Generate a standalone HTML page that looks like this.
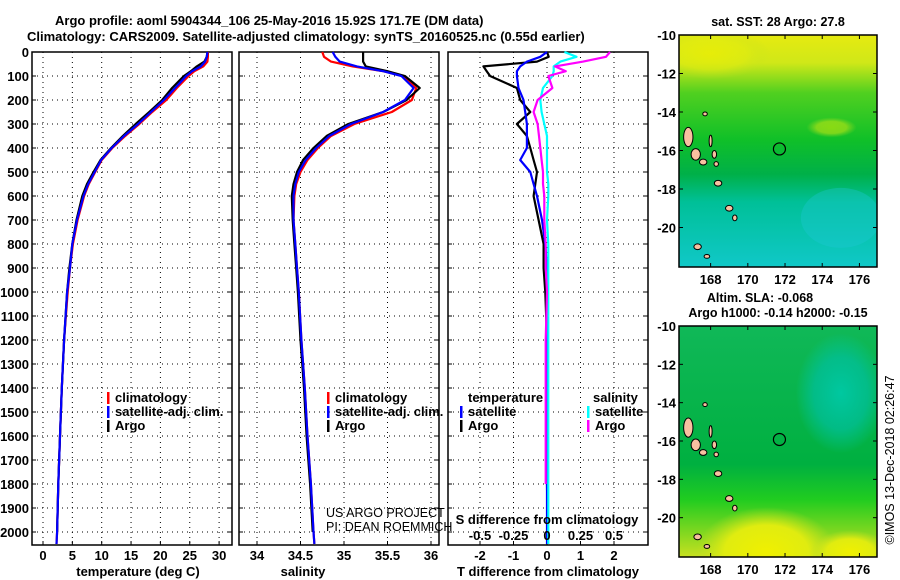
<!DOCTYPE html>
<html><head><meta charset="utf-8"><style>
body{margin:0;background:#fff;width:900px;height:580px;overflow:hidden}
svg{display:block;font-family:"Liberation Sans",sans-serif}
.b{font-weight:bold;font-size:13px}
.t{font-weight:bold;font-size:12.5px}
.n{font-weight:normal;font-size:12.5px}
</style></head><body>
<svg id="chart" width="900" height="580" viewBox="0 0 900 580">
<defs>
<linearGradient id="sstg" x1="0" y1="0" x2="0" y2="1">
<stop offset="0" stop-color="#e6ea10"/><stop offset="0.12" stop-color="#d0e818"/><stop offset="0.25" stop-color="#50d020"/><stop offset="0.45" stop-color="#10c028"/><stop offset="0.6" stop-color="#00b048"/><stop offset="0.72" stop-color="#00c098"/><stop offset="1" stop-color="#10c8c8"/></linearGradient>
<linearGradient id="slag" x1="0" y1="0" x2="0" y2="1">
<stop offset="0" stop-color="#10b858"/><stop offset="0.6" stop-color="#00b040"/><stop offset="0.75" stop-color="#20cc20"/><stop offset="1" stop-color="#c8e020"/></linearGradient>
<radialGradient id="teal"><stop offset="0" stop-color="#00c8a0"/><stop offset="0.6" stop-color="#00c0a0" stop-opacity="0.7"/><stop offset="1" stop-color="#00c8a0" stop-opacity="0"/></radialGradient>
<radialGradient id="yel"><stop offset="0" stop-color="#f0f000"/><stop offset="0.6" stop-color="#e0ec10"/><stop offset="1" stop-color="#c0e020" stop-opacity="0"/></radialGradient>
<clipPath id="c1"><rect x="679" y="35" width="198" height="232"/></clipPath>
<clipPath id="c2"><rect x="679" y="326" width="198" height="231"/></clipPath>
</defs>
<g id="root"></g>
</svg>
<script>
// ---- data ----
const depths = [0,20,40,60,80,100,150,200,250,300,350,400,450,500,550,600,700,800,900,1000,1200,1400,1600,1800,2000,2050];
const tempClim = [28.1,28.1,28.0,27.3,25.8,24.8,22.8,21.0,18.6,16.4,14.0,11.8,10.0,8.9,7.8,7.0,5.9,5.1,4.6,4.2,3.6,3.2,2.9,2.6,2.4,2.3];
const tempSat  = [28.0,27.9,27.6,26.9,25.4,24.4,22.5,20.6,18.4,16.2,13.8,11.7,9.9,8.8,7.7,6.9,5.8,5.0,4.6,4.1,3.6,3.2,2.9,2.6,2.4,2.3];
const tempArgo = [28.0,27.9,27.5,26.2,25.2,24.0,22.0,20.3,18.1,15.8,13.6,11.6,9.8,8.6,7.5,6.7,5.7,5.0,4.5,4.1,3.6,3.2,2.9,2.6,2.4,null];
const salClim = [34.75,34.77,34.85,35.1,35.45,35.68,35.83,35.78,35.55,35.12,34.85,34.7,34.58,34.5,34.45,34.43,34.42,34.44,34.46,34.48,34.51,34.55,34.58,34.62,34.65,34.66];
const salSat  = [34.87,34.9,34.95,35.15,35.45,35.66,35.8,35.7,35.45,35.08,34.83,34.68,34.56,34.48,34.44,34.42,34.42,34.44,34.46,34.48,34.51,34.55,34.58,34.62,34.65,34.66];
const salArgo = [35.22,35.22,35.22,35.25,35.5,35.7,35.87,35.72,35.45,35.05,34.8,34.65,34.53,34.46,34.42,34.4,34.41,34.43,34.45,34.47,34.5,34.54,34.57,34.61,34.64,null];
const dTsat  = [0.0,-0.2,-0.6,-0.8,-0.9,-0.9,-0.85,-0.7,-0.65,-0.6,-0.6,-0.6,-0.8,-0.5,-0.4,-0.3,-0.15,-0.05,0,0,0,0,0,0,0,0];
const dTargo = [0.0,0.05,-0.3,-1.9,-1.8,-1.7,-0.9,-0.8,-0.5,-0.9,-0.6,-0.5,-0.4,-0.3,-0.35,-0.4,-0.25,-0.1,-0.1,-0.05,0,0.02,0,0,0.02,null];
const dSsat  = [0.13,0.22,0.1,0.05,0.05,0.04,-0.03,-0.05,-0.04,-0.02,0,0,0,0,0.01,0.01,0,0.01,0.01,0.01,0.01,0.01,0.01,0.01,0.01,0.01];
const dSargo = [0.47,0.44,0.27,0.06,0.14,0.01,0.04,-0.07,-0.1,-0.07,-0.06,-0.05,-0.04,-0.03,-0.03,-0.02,-0.02,-0.01,-0.01,0,-0.01,-0.01,-0.01,-0.01,null,null];
const depthTicks = [0,100,200,300,400,500,600,700,800,900,1000,1100,1200,1300,1400,1500,1600,1700,1800,1900,2000];
const tempTicks = [0,5,10,15,20,25,30];
const salTicks = [34,34.5,35,35.5,36];
const dTTicks = [-2,-1,0,1,2];
const dSTicks = [-0.5,-0.25,0,0.25,0.5];
const latTicks = [-10,-12,-14,-16,-18,-20];
const lonTicks = [168,170,172,174,176];
const argoPos = [171.7,-15.92];
const islands = [[166.8,-15.3,0.25,0.5],[167.2,-16.2,0.25,0.3],[167.6,-16.6,0.2,0.15],[168.2,-16.2,0.12,0.2],[168.3,-16.7,0.12,0.12],[168.4,-17.7,0.2,0.15],[169.0,-19.0,0.2,0.15],[169.3,-19.5,0.12,0.15],[167.3,-21.0,0.2,0.15],[167.8,-21.5,0.15,0.1],[167.7,-14.1,0.12,0.1],[168.0,-15.5,0.08,0.3]];

const NS="http://www.w3.org/2000/svg";
const root=document.getElementById('root');
function el(tag,attrs,parent){const e=document.createElementNS(NS,tag);for(const k in attrs)e.setAttribute(k,attrs[k]);(parent||root).appendChild(e);return e;}
function txt(x,y,s,cls,anchor,parent){const t=el('text',{x:x,y:y,'class':cls||'b','text-anchor':anchor||'start'},parent);t.textContent=s;return t;}

const Y0=52,Y1=545;
const yD=d=>Y0+d*0.24;
const panels=[
 {x0:32,x1:232,sx:v=>43+v*5.87,ticks:tempTicks,name:'temperature-panel'},
 {x0:239,x1:439,sx:v=>257+(v-34)*87,ticks:salTicks,name:'salinity-panel'},
 {x0:448,x1:648,sx:v=>547+v*33.5,ticks:dTTicks,name:'difference-panel'}];
const sxS=v=>547+v*134;

panels.forEach((p,pi)=>{
  const g=el('g',{});
  
  
  depthTicks.forEach(d=>{ if(d>0) el('line',{x1:p.x0,x2:p.x1,y1:yD(d),y2:yD(d),stroke:'#000','stroke-width':1,'stroke-dasharray':'1,4'},g);
    el('line',{x1:p.x0,x2:p.x0+4,y1:yD(d),y2:yD(d),stroke:'#000'},g);el('line',{x1:p.x1-4,x2:p.x1,y1:yD(d),y2:yD(d),stroke:'#000'},g);});
  p.ticks.forEach(v=>{const x=p.sx(v);el('line',{x1:x,x2:x,y1:Y0,y2:Y1,stroke:'#000','stroke-dasharray':'1,4'},g);
    el('line',{x1:x,x2:x,y1:Y1-4,y2:Y1,stroke:'#000'},g);
    const t=txt(x,560,String(v),'b','middle',g);
    
    });
  el('rect',{x:p.x0,y:Y0,width:p.x1-p.x0,height:Y1-Y0,fill:'none',stroke:'#000','stroke-width':1.5},g);
});
depthTicks.forEach(d=>{const t=txt(29,yD(d)+5,String(d),'b','end');
  
  });

function line(vals,sx,color,name){
  let pts=[];depths.forEach((d,i)=>{if(vals[i]!==null&&vals[i]!==undefined)pts.push(sx(vals[i]).toFixed(1)+','+yD(d).toFixed(1));});
  const pl=el('polyline',{points:pts.join(' '),fill:'none',stroke:color,'stroke-width':2.2,'stroke-linejoin':'round'});
  
  
}
line(tempClim,panels[0].sx,'#f00','temp-climatology-line');
line(tempArgo,panels[0].sx,'#000','temp-argo-line');
line(tempSat,panels[0].sx,'#00f','temp-satellite-line');
line(salClim,panels[1].sx,'#f00','sal-climatology-line');
line(salArgo,panels[1].sx,'#000','sal-argo-line');
line(salSat,panels[1].sx,'#00f','sal-satellite-line');
line(dTargo,panels[2].sx,'#000','t-diff-argo-line');
line(dTsat,panels[2].sx,'#00f','t-diff-satellite-line');
line(dSsat,sxS,'#0ff','s-diff-satellite-line');
line(dSargo,sxS,'#f0f','s-diff-argo-line');

// S diff axis
txt(547,524,'S difference from climatology','b','middle');
dSTicks.forEach(v=>{const t=txt(sxS(v),540,String(v),'b','middle');
  
  });

// axis titles
txt(138,576,'temperature (deg C)','b','middle');
txt(303,576,'salinity','b','middle');
txt(548,576,'T difference from climatology','b','middle');
// titles
txt(55,25,'Argo profile: aoml 5904344_106 25-May-2016 15.92S 171.7E (DM data)','b','start');
txt(27,41,'Climatology: CARS2009. Satellite-adjusted climatology: synTS_20160525.nc (0.55d earlier)','b','start');

// legends
function leg(x,y,color,label,name){const g=el('g',{});
  el('rect',{x:x,y:y-10,width:2.5,height:12,fill:color},g);txt(x+8,y,label,'b','start',g);}
leg(107,402,'#f00','climatology','legend-climatology');
leg(107,416,'#00f','satellite-adj. clim.','legend-satellite');
leg(107,430,'#000','Argo','legend-argo');
leg(327,402,'#f00','climatology','legend-climatology-2');
leg(327,416,'#00f','satellite-adj. clim.','legend-satellite-2');
leg(327,430,'#000','Argo','legend-argo-2');
txt(468,402,'temperature','b','start');
txt(593,402,'salinity','b','start');
leg(460,416,'#00f','satellite','legend-t-satellite');
leg(460,430,'#000','Argo','legend-t-argo');
leg(587,416,'#0ff','satellite','legend-s-satellite');
leg(587,430,'#f0f','Argo','legend-s-argo');
txt(326,517,'US ARGO PROJECT','n','start');
txt(326,531,'PI: DEAN ROEMMICH','n','start');

// maps
const mx=lon=>679+(lon-166.3)*18.6;
function drawMap(top,h,clip,fill,name){
  const g=el('g',{'clip-path':'url(#'+clip+')'});
  
  
  const my=lat=>top+(-10-lat)*19.25*(h/232);
  el('rect',{x:679,y:top,width:198,height:h,fill:fill},g);
  if(name==='sla-map'){
    el('ellipse',{cx:mx(175),cy:my(-13.5),rx:45,ry:60,fill:'url(#teal)'},g);
    el('ellipse',{cx:mx(171),cy:my(-21.8),rx:70,ry:45,fill:'url(#yel)'},g);
    el('ellipse',{cx:mx(175.5),cy:my(-21.8),rx:40,ry:22,fill:'url(#yel)'},g);
  } else {
    el('ellipse',{cx:mx(168),cy:my(-11),rx:60,ry:25,fill:'url(#yel)',opacity:0.6},g);
    el('ellipse',{cx:mx(174.5),cy:my(-14.8),rx:25,ry:10,fill:'url(#yel)',opacity:0.5},g);
    el('ellipse',{cx:mx(175),cy:my(-19.5),rx:40,ry:30,fill:'#20c8d8',opacity:0.35},g);
  }
  islands.forEach(a=>{const e=el('ellipse',{cx:mx(a[0]),cy:my(a[1]),rx:a[2]*18.6,ry:a[3]*19.25,fill:'#f8c0a0',stroke:'#000','stroke-width':1},g);
    
    });
  const c=el('circle',{cx:mx(argoPos[0]),cy:my(argoPos[1]),r:6,fill:'none',stroke:'#000','stroke-width':1.2});
  
  
  el('rect',{x:679,y:top,width:198,height:h,fill:'none',stroke:'#000','stroke-width':1.5});
  latTicks.forEach(l=>{const y=my(l);el('line',{x1:679,x2:683,y1:y,y2:y,stroke:'#000'});el('line',{x1:873,x2:877,y1:y,y2:y,stroke:'#000'});
    const t=txt(676,y+5,String(l),'b','end');});
  lonTicks.forEach(l=>{const x=mx(l);el('line',{x1:x,x2:x,y1:top,y2:top+4,stroke:'#000'});el('line',{x1:x,x2:x,y1:top+h-4,y2:top+h,stroke:'#000'});
    const t=txt(x,top+h+17,String(l),'b','middle');});
}
drawMap(35,232,'c1','url(#sstg)','sst-map');
drawMap(326,231,'c2','url(#slag)','sla-map');
txt(778,26,'sat. SST: 28 Argo: 27.8','t','middle');
txt(760,302,'Altim. SLA: -0.068','t','middle');
txt(778,317,'Argo h1000: -0.14 h2000: -0.15','t','middle');
const v=txt(0,0,'©IMOS 13-Dec-2018 02:26:47','n','middle');
v.setAttribute('transform','translate(894,460) rotate(-90)');
</script>
</body></html>
